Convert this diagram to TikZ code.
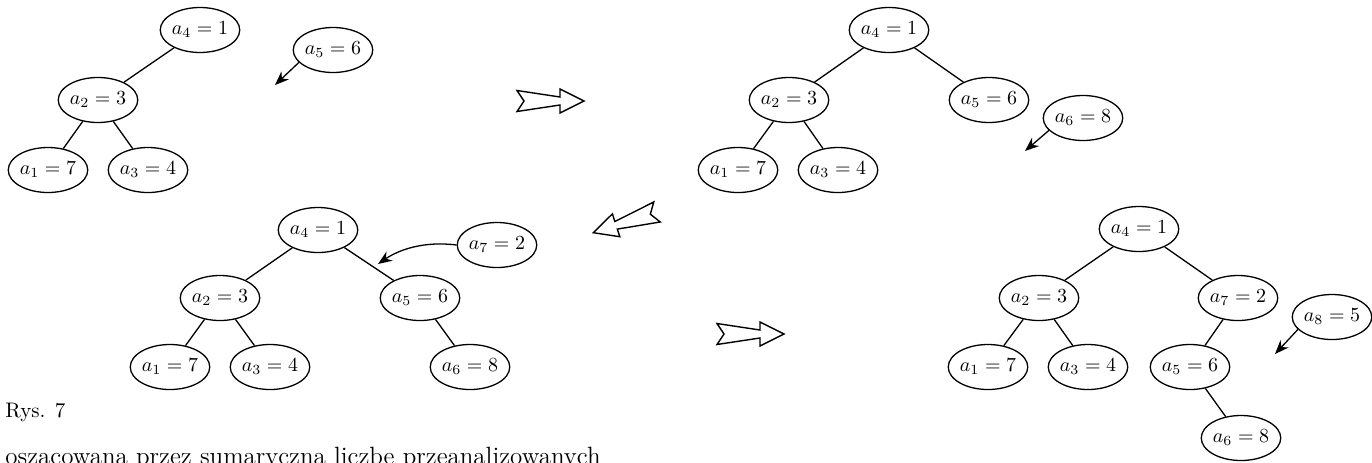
\documentclass[tikz,border=0pt]{standalone}
\usetikzlibrary{shapes.geometric,arrows.meta}
\begin{document}
\begin{tikzpicture}[x=0.5pt,y=-0.5pt,
  nd/.style={ellipse,draw,line width=0.65pt,inner sep=0pt,minimum width=38.5pt,minimum height=22.5pt},
  edge/.style={line width=0.65pt},
  ins/.style={line width=0.65pt,-{Stealth[length=7pt,width=5.5pt]}},
  bigarrow/.pic={\draw[line width=0.7pt,line join=miter] (0,-10.5) -- (43,-4) -- (43,-12) -- (67,0) -- (43,12) -- (43,4) -- (0,10.5) -- (7,0) -- cycle;}]
\useasboundingbox (0,0) rectangle (1372,462);
% tree 1
\node[nd] (A4) at (200,30) {$a_4=1$};
\node[nd] (A2) at (98,100) {$a_2=3$};
\node[nd] (A1) at (48,170) {$a_1=7$};
\node[nd] (A3) at (148,170) {$a_3=4$};
\node[nd] (A5) at (333,50) {$a_5=6$};
\coordinate (At) at (275,85);
\draw[edge] (A4)--(A2) (A2)--(A1) (A2)--(A3);
\draw[ins] (A5.200) -- (At);
% tree 2
\node[nd] (B4) at (889,30) {$a_4=1$};
\node[nd] (B2) at (789,100) {$a_2=3$};
\node[nd] (B5) at (989,100) {$a_5=6$};
\node[nd] (B1) at (738,170) {$a_1=7$};
\node[nd] (B3) at (838,170) {$a_3=4$};
\node[nd] (B6) at (1083,118) {$a_6=8$};
\coordinate (Bt) at (1025,151);
\draw[edge] (B4)--(B2) (B4)--(B5) (B2)--(B1) (B2)--(B3);
\draw[ins] (B6.200) -- (Bt);
% tree 3
\node[nd] (C4) at (318,230) {$a_4=1$};
\node[nd] (C2) at (220,298) {$a_2=3$};
\node[nd] (C5) at (420,298) {$a_5=6$};
\node[nd] (C1) at (170,367) {$a_1=7$};
\node[nd] (C3) at (270,367) {$a_3=4$};
\node[nd] (C6) at (470,367) {$a_6=8$};
\node[nd] (C7) at (497,245) {$a_7=2$};
\coordinate (Ct) at (378,264);
\draw[edge] (C4)--(C2) (C4)--(C5) (C2)--(C1) (C2)--(C3) (C5)--(C6);
\draw[ins] (C7.west) .. controls (425,241) and (400,249) .. (Ct);
% tree 4
\node[nd] (D4) at (1139,229) {$a_4=1$};
\node[nd] (D2) at (1039,298) {$a_2=3$};
\node[nd] (D7) at (1238,298) {$a_7=2$};
\node[nd] (D1) at (988,367) {$a_1=7$};
\node[nd] (D3) at (1088,367) {$a_3=4$};
\node[nd] (D5) at (1190,367) {$a_5=6$};
\node[nd] (D6) at (1241,438) {$a_6=8$};
\node[nd] (D8) at (1332,317) {$a_8=5$};
\coordinate (Dt) at (1275,354);
\draw[edge] (D4)--(D2) (D4)--(D7) (D2)--(D1) (D2)--(D3) (D7)--(D5) (D5)--(D6);
\draw[ins] (D8.200) -- (Dt);
% big arrows
\pic at (517,101) {bigarrow};
\pic[rotate=198] at (657,212) {bigarrow};
\pic at (717,334) {bigarrow};
% texts
\node[anchor=base west,inner sep=0pt,font=\fontsize{10.5}{12}\selectfont] (cap) at (5,417) {Rys. 7};
\node[anchor=base west,inner sep=0pt,font=\fontsize{12.5}{15}\selectfont] (body) at (5,464) {oszacowana przez sumaryczną liczbę przeanalizowanych};
\end{tikzpicture}
\end{document}
